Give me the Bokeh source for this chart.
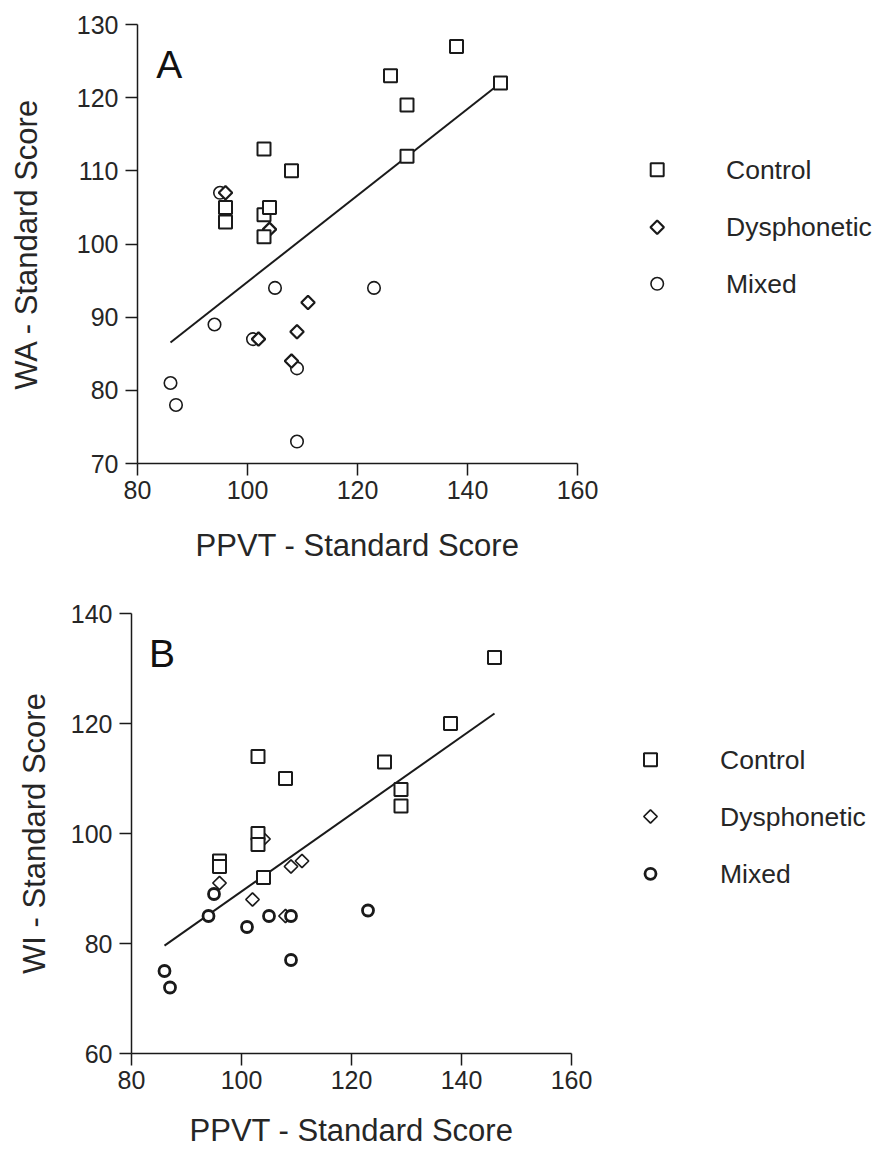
import numpy as np
from bokeh.plotting import figure
from bokeh.layouts import column, row
from bokeh.models import FixedTicker, Label
from bokeh.core.properties import value
from bokeh.embed import file_html
from bokeh.resources import INLINE

# ---- data -------------------------------------------------------------
groups = ["Control", "Dysphonetic", "Mixed"]

# PPVT standard score for each child, with word attack (WA) and
# word identification (WI) standard scores in the same order
control_ppvt = [138, 126, 129, 129, 146, 103, 103, 103, 108, 104, 96, 96]
control_wa = [127, 123, 119, 112, 122, 113, 104, 101, 110, 105, 105, 103]
control_wi = [120, 113, 108, 105, 132, 114, 100, 98, 110, 92, 95, 94]

dysphonetic_ppvt = [96, 104, 111, 109, 108, 102]
dysphonetic_wa = [107, 102, 92, 88, 84, 87]
dysphonetic_wi = [91, 99, 95, 94, 85, 88]

mixed_ppvt = [95, 101, 105, 123, 94, 86, 87, 109, 109]
mixed_wa = [107, 87, 94, 94, 89, 81, 78, 83, 73]
mixed_wi = [89, 83, 85, 86, 85, 75, 72, 85, 77]

x_ticks = [80, 100, 120, 140, 160]
wa_ticks = [70, 80, 90, 100, 110, 120, 130]
wi_ticks = [60, 80, 100, 120, 140]
x_title = "PPVT - Standard Score"

# ---- styling ----------------------------------------------------------
FONT = "Liberation Sans"
INK = "#1a1a1a"
TEXT = "#262626"
PAGE_W = 879
FRAME = 440       # plotting area is 440 px wide
RIGHT_PAD = 25    # room for the last x tick label

STYLE_A = {
    "Control": dict(marker="square", size=13, angle=0.0, line_width=2.0),
    "Dysphonetic": dict(marker="square", size=9.5, angle=np.pi / 4, line_width=2.2),
    "Mixed": dict(marker="circle", size=12.5, angle=0.0, line_width=1.6),
}
STYLE_B = {
    "Control": dict(marker="square", size=13, angle=0.0, line_width=2.0),
    "Dysphonetic": dict(marker="square", size=9.5, angle=np.pi / 4, line_width=1.7),
    "Mixed": dict(marker="circle", size=11, angle=0.0, line_width=2.8),
}


def style_axes(p):
    for ax in (p.xaxis, p.yaxis):
        ax.axis_line_color = INK
        ax.axis_line_width = 1.5
        ax.major_tick_line_color = INK
        ax.major_tick_line_width = 1.5
        ax.major_tick_out = 12
        ax.major_tick_in = 0
        ax.minor_tick_line_color = None
        ax.major_label_text_font = FONT
        ax.major_label_text_font_size = "25px"
        ax.major_label_text_color = TEXT
        ax.axis_label_text_font = FONT
        ax.axis_label_text_font_size = "31px"
        ax.axis_label_text_font_style = "normal"
        ax.axis_label_text_color = TEXT


def make_panel(series, order, style, y_ticks, y_label, letter, height,
               left, top, frame_h, ylab_standoff, xlab_standoff, letter_xy):
    width = left + FRAME + RIGHT_PAD
    p = figure(width=width, height=height,
               x_range=(x_ticks[0], x_ticks[-1]), y_range=(y_ticks[0], y_ticks[-1]),
               output_backend="svg", toolbar_location=None,
               min_border_left=left, min_border_right=RIGHT_PAD,
               min_border_top=top, min_border_bottom=height - top - frame_h)
    p.outline_line_color = None
    p.xgrid.visible = False
    p.ygrid.visible = False
    p.background_fill_color = "white"
    p.border_fill_color = "white"
    style_axes(p)

    p.xaxis.ticker = FixedTicker(ticks=x_ticks)
    p.xaxis.major_label_standoff = 5
    p.xaxis.axis_label = x_title
    p.xaxis.axis_label_standoff = xlab_standoff

    p.yaxis.ticker = FixedTicker(ticks=y_ticks)
    p.yaxis.major_label_standoff = 7
    p.yaxis.axis_label = y_label
    p.yaxis.axis_label_standoff = ylab_standoff

    # least-squares line over all children
    all_x = np.concatenate([np.asarray(series[g][0], float) for g in groups])
    all_y = np.concatenate([np.asarray(series[g][1], float) for g in groups])
    slope, intercept = np.polyfit(all_x, all_y, 1)
    fx = np.array([all_x.min(), all_x.max()])
    p.line(fx, slope * fx + intercept, line_color=INK, line_width=2)

    for g in order:
        xs, ys = series[g]
        st = style[g]
        p.scatter(xs, ys, marker=st["marker"], size=st["size"], angle=st["angle"],
                  line_color=INK, line_width=st["line_width"], fill_color="white")

    p.add_layout(Label(x=letter_xy[0], y=letter_xy[1], text=letter,
                       text_font=FONT, text_font_size="39px", text_color="#111111",
                       text_baseline="alphabetic", text_align="left"))
    return p


def make_legend(style, width, height, top, frame_h, mark_x, text_x, rows_y):
    # key panel: its plotting area lines up with the scatter's, and its
    # coordinates are pixels from the top of the row (y grows downward)
    q = figure(width=width, height=height,
               x_range=(0, width), y_range=(top + frame_h, top),
               output_backend="svg", toolbar_location=None,
               x_axis_location=None, y_axis_location=None,
               min_border_left=0, min_border_right=0,
               min_border_top=top, min_border_bottom=height - top - frame_h)
    q.outline_line_color = None
    q.xgrid.visible = False
    q.ygrid.visible = False
    q.background_fill_color = "white"
    q.border_fill_color = "white"
    for g, ry in zip(groups, rows_y):
        st = style[g]
        q.scatter([mark_x], [ry], marker=st["marker"], size=st["size"],
                  angle=st["angle"], line_color=INK, line_width=st["line_width"],
                  fill_color="white")
    q.text(x=[text_x] * len(groups), y=rows_y, text=groups,
           text_font=value(FONT), text_font_size=value("26.5px"),
           text_color=TEXT, text_baseline="middle", text_align="left")
    return q


series_a = {
    "Control": (control_ppvt, control_wa),
    "Dysphonetic": (dysphonetic_ppvt, dysphonetic_wa),
    "Mixed": (mixed_ppvt, mixed_wa),
}
series_b = {
    "Control": (control_ppvt, control_wi),
    "Dysphonetic": (dysphonetic_ppvt, dysphonetic_wi),
    "Mixed": (mixed_ppvt, mixed_wi),
}

H_A, H_B = 590, 571
TOP_A, TOP_B = 24, 23
FH_A, FH_B = 439, 440

panel_a = make_panel(series_a, ["Mixed", "Dysphonetic", "Control"], STYLE_A,
                     wa_ticks, "WA - Standard Score", "A", height=H_A,
                     left=137, top=TOP_A, frame_h=FH_A,
                     ylab_standoff=30, xlab_standoff=26, letter_xy=(83.4, 124.6))
key_a = make_legend(STYLE_A, PAGE_W - panel_a.width, H_A, TOP_A, FH_A,
                    mark_x=54.7, text_x=123.5, rows_y=[169.3, 226.7, 283.3])

panel_b = make_panel(series_b, ["Dysphonetic", "Mixed", "Control"], STYLE_B,
                     wi_ticks, "WI - Standard Score", "B", height=H_B,
                     left=131, top=TOP_B, frame_h=FH_B,
                     ylab_standoff=16, xlab_standoff=21, letter_xy=(83.2, 132.7))
key_b = make_legend(STYLE_B, PAGE_W - panel_b.width, H_B, TOP_B, FH_B,
                    mark_x=54.0, text_x=123.5, rows_y=[169.3, 226.0, 283.3])

layout = column(row(panel_a, key_a), row(panel_b, key_b))
open("out.html", "w").write(file_html(layout, INLINE))
